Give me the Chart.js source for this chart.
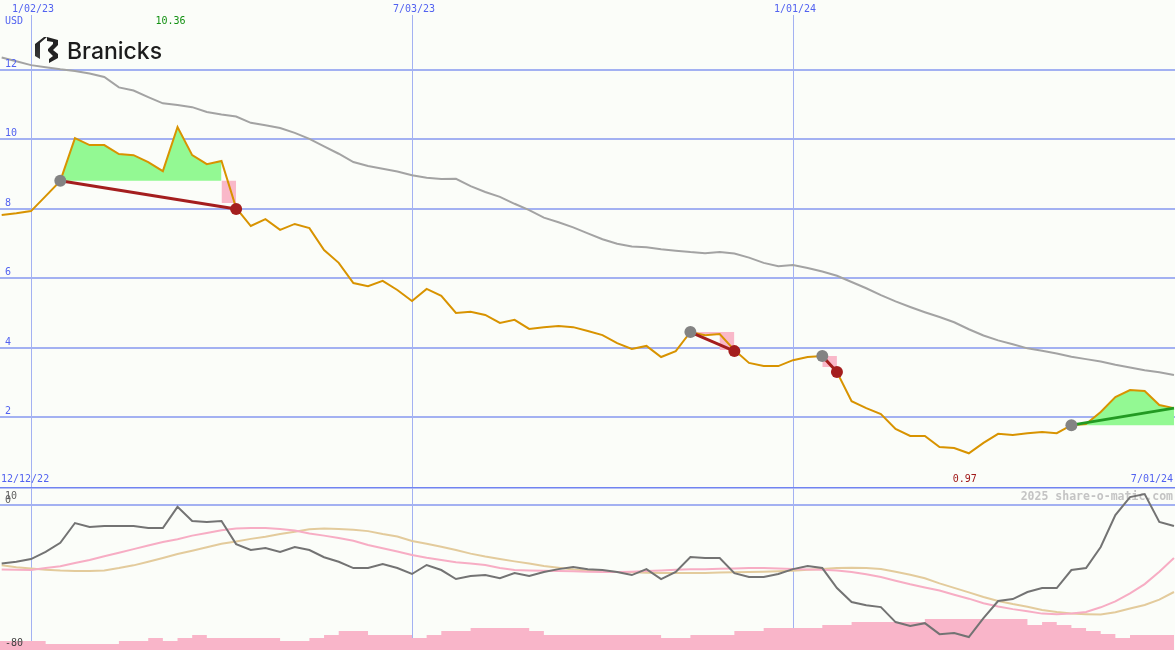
<!DOCTYPE html>
<html>
<head>
<meta charset="utf-8">
<script src="https://cdn.jsdelivr.net/npm/chart.js@4.4.1/dist/chart.umd.min.js"></script>
<style>
  body { margin: 0; background: #fbfdf9; }
  #wrap { position: relative; width: 1175px; height: 650px; overflow: hidden; }
  canvas { position: absolute; left: 0; }
  #priceChart { top: 0; }
  #oscChart { top: 487px; }
</style>
</head>
<body>
<div id="wrap">
  <canvas id="priceChart" width="1175" height="487"></canvas>
  <canvas id="oscChart" width="1175" height="163"></canvas>
</div>
<script>
// weeks counted from 1/02/23, series start at week -2
const firstWeek = -2;
const price = [7.83, 7.88, 7.94, 8.37, 8.81, 10.04, 9.84, 9.84, 9.58, 9.55, 9.35, 9.09, 10.36, 9.55, 9.29, 9.38,
  8.03, 7.51, 7.71, 7.40, 7.57, 7.45, 6.82, 6.45, 5.87, 5.78, 5.93, 5.67, 5.35, 5.70, 5.50, 5.01, 5.04, 4.95,
  4.72, 4.81, 4.55, 4.60, 4.63, 4.60, 4.49, 4.37, 4.14, 3.97, 4.06, 3.74, 3.91, 4.46, 4.37, 4.40, 3.94, 3.57,
  3.48, 3.48, 3.65, 3.74, 3.77, 3.31, 2.47, 2.27, 2.10, 1.67, 1.47, 1.47, 1.15, 1.12, 0.97, 1.27, 1.53, 1.50,
  1.55, 1.58, 1.55, 1.78, 1.81, 2.16, 2.59, 2.79, 2.76, 2.36, 2.27];
const average = [12.36, 12.25, 12.14, 12.08, 12.02, 11.97, 11.90, 11.80, 11.50, 11.41, 11.22, 11.04, 10.99, 10.93,
  10.79, 10.72, 10.66, 10.48, 10.41, 10.33, 10.19, 10.02, 9.80, 9.59, 9.35, 9.24, 9.16, 9.08, 8.97, 8.90, 8.86,
  8.87, 8.66, 8.49, 8.35, 8.15, 7.97, 7.75, 7.62, 7.47, 7.30, 7.13, 7.00, 6.92, 6.90, 6.84, 6.80, 6.76, 6.73,
  6.76, 6.72, 6.60, 6.45, 6.35, 6.39, 6.30, 6.20, 6.08, 5.90, 5.72, 5.52, 5.34, 5.18, 5.03, 4.89, 4.74, 4.54,
  4.36, 4.22, 4.11, 3.99, 3.92, 3.84, 3.75, 3.68, 3.61, 3.52, 3.44, 3.36, 3.30, 3.22];
const oscillator = [-32.5, -31.5, -30, -26, -21, -10, -12.2, -11.7, -11.7, -11.7, -12.8, -12.8, -1, -8.9, -9.4,
  -8.9, -21.7, -25, -23.9, -26.1, -23.3, -25, -29, -31.5, -35, -35, -32.8, -35, -38.3, -33.3, -36.1, -41.1,
  -39.4, -38.9, -40.6, -37.8, -39.4, -37.2, -35.6, -34.4, -35.6, -36.1, -37.2, -38.9, -35.6, -41.1, -37.2,
  -28.9, -29.4, -29.4, -37.8, -40, -40, -38.3, -35.6, -33.9, -35, -46.1, -53.9, -55.6, -56.7, -65, -67.2,
  -65.6, -71.7, -71.1, -73.3, -62.8, -53.3, -52.2, -48.3, -46.1, -46.1, -36.1, -35, -23.3, -5.6, 4.4, 6.1,
  -9.4, -11.7];
const signalPink = [-35.8, -36, -36.1, -35, -34, -32.2, -30.5, -28.5, -26.5, -24.5, -22.5, -20.5, -19, -17, -15.5,
  -14, -13, -12.8, -12.8, -13.3, -14.2, -15.8, -17, -18.3, -19.8, -22.2, -24, -25.8, -27.8, -29.3, -30.5,
  -31.8, -32.5, -33.3, -35, -36.1, -36.3, -36.5, -36.7, -36.8, -37, -37.2, -37.2, -37, -36.7, -36.4, -36,
  -35.6, -35.6, -35.4, -35.2, -35, -35, -35.2, -35.5, -35.8, -36, -36.4, -37.2, -38.5, -40, -42, -44, -45.8,
  -47.5, -49.8, -52, -54.5, -56.4, -57.8, -59, -60.3, -60.6, -60.3, -59.4, -56.8, -53.5, -49, -43.9, -37, -29.4];
const signalTan = [-33.5, -34.5, -35.2, -35.9, -36.4, -36.7, -36.7, -36.3, -35, -33.5, -31.5, -29.4, -27.2, -25.4,
  -23.5, -21.5, -20.3, -18.8, -17.6, -16.1, -14.8, -13.4, -13, -13.3, -13.8, -14.5, -16.1, -17.5, -20, -21.5,
  -23.2, -25, -27, -28.6, -30, -31.3, -32.5, -33.8, -34.8, -35.8, -36.4, -36.9, -37.2, -37.4, -37.6, -37.7,
  -37.8, -37.8, -37.7, -37.5, -37.4, -37.2, -37, -36.8, -36.5, -36, -35.5, -35, -34.8, -35, -35.5, -37, -38.7,
  -40.7, -43.5, -46, -48.5, -51.1, -53.3, -55, -56.5, -58.3, -59.4, -60.3, -60.6, -60.8, -59.5, -57.5, -55.5,
  -52.5, -48.3];
// weekly volume bars start at week -3
const volumeStart = -3;
const volume = [9, 9, 9, 9, 6, 6, 6, 6, 6, 9, 9, 12, 9, 12, 15, 12, 12, 12, 12, 12, 9, 9, 12, 15, 19, 19, 15, 15,
  15, 12, 15, 19, 19, 22, 22, 22, 22, 19, 15, 15, 15, 15, 15, 15, 15, 15, 12, 12, 15, 15, 15, 19, 19, 22, 22,
  22, 22, 25, 25, 28, 28, 28, 28, 28, 31, 31, 31, 31, 31, 31, 31, 25, 28, 25, 22, 19, 16, 12, 15, 15, 15, 15];

// trades
const entryWeek = [2, 45, 54, 71];
const entryPrice = [8.81, 4.46, 3.77, 1.78];
const exitWeek = [14, 48, 55];
const exitPrice = [8.00, 3.91, 3.31];
const gainWeeks = [[2, 13], [71, 78]];
const lossWeeks = [[13, 14], [45, 46, 47, 48], [54, 55]];
const lossLow = [[8.81, 8.17], [4.46, 4.37, 4.40, 3.94], [3.77, 3.45]];

const priceTicks = [2, 4, 6, 8, 10, 12];
const dateWeeks = [0, 26, 52];
const dateLabels = ['1/02/23', '7/03/23', '1/01/24'];
const maxWeek = 10, minWeek = 64;

const gridColor = '#a3b1f2';
const textBlue = '#5262f0';
const mono = '"DejaVu Sans Mono", monospace';

const toPoints = (arr, start) => arr.map((v, i) => ({ x: start + i, y: v }));
const priceAt = w => price[w - firstWeek];

const xScale = { type: 'linear', min: -2.115, max: 78.07, display: false };

const hline = (ctx, x1, y1, x2, y2) => {
    ctx.beginPath();
    ctx.moveTo(x1, y1);
    ctx.lineTo(x2, y2);
    ctx.stroke();
};

const drawLogo = (ctx) => {
    ctx.save();
    const g = ctx.createLinearGradient(35, 36, 58, 63);
    g.addColorStop(0, '#1a1a1a');
    g.addColorStop(1, '#555');
    ctx.fillStyle = g;
    ctx.beginPath();
    ctx.moveTo(35, 44);
    ctx.lineTo(44, 37);
    ctx.lineTo(47, 37);
    ctx.lineTo(40, 43);
    ctx.lineTo(40, 59);
    ctx.lineTo(35, 56);
    ctx.closePath();
    ctx.fill();
    ctx.fillStyle = '#222';
    ctx.beginPath();
    ctx.moveTo(47, 37);
    ctx.lineTo(58, 40);
    ctx.lineTo(58, 45);
    ctx.lineTo(53, 50);
    ctx.lineTo(58, 54);
    ctx.lineTo(58, 58);
    ctx.lineTo(49, 63);
    ctx.lineTo(49, 59);
    ctx.lineTo(53, 56);
    ctx.lineTo(48, 51);
    ctx.lineTo(48, 49);
    ctx.lineTo(53, 44);
    ctx.lineTo(53, 42);
    ctx.lineTo(47, 41);
    ctx.closePath();
    ctx.fill();
    ctx.fillStyle = '#1c1c1c';
    ctx.font = '500 23px Inter, "Noto Sans", sans-serif';
    ctx.textBaseline = 'alphabetic';
    ctx.textAlign = 'left';
    ctx.fillText('Branicks', 67, 59);
    ctx.restore();
};

const priceGrid = {
    id: 'priceGrid',
    beforeDatasetsDraw(chart) {
        const { ctx, scales: { x, y } } = chart;
        ctx.save();
        ctx.strokeStyle = gridColor;
        ctx.lineWidth = 2;
        priceTicks.forEach(v => {
            const py = Math.round(y.getPixelForValue(v));
            hline(ctx, 0, py, chart.width, py);
        });
        ctx.lineWidth = 1;
        dateWeeks.forEach(w => {
            const px = Math.round(x.getPixelForValue(w)) + 0.5;
            hline(ctx, px, 15, px, chart.height);
        });
        ctx.restore();
    },
    afterDraw(chart) {
        const { ctx, scales: { x, y } } = chart;
        ctx.save();
        ctx.font = '10px ' + mono;
        ctx.textBaseline = 'middle';
        ctx.fillStyle = textBlue;
        ctx.textAlign = 'center';
        dateWeeks.forEach((w, i) => ctx.fillText(dateLabels[i], x.getPixelForValue(w) + 2, 9));
        ctx.textAlign = 'left';
        ctx.fillText('USD', 5, 21);
        priceTicks.forEach(v => ctx.fillText(String(v), 5, y.getPixelForValue(v) - 6));
        ctx.fillText('12/12/22', 1, 479);
        ctx.textAlign = 'right';
        ctx.fillText('7/01/24', 1173, 479);
        ctx.textAlign = 'center';
        ctx.fillStyle = '#129012';
        ctx.fillText(priceAt(maxWeek).toFixed(2), x.getPixelForValue(maxWeek) - 7, 21);
        ctx.fillStyle = '#a01818';
        ctx.fillText(priceAt(minWeek).toFixed(2), x.getPixelForValue(minWeek) - 4, 479);
        ctx.restore();
        drawLogo(ctx);
    }
};

const priceDatasets = [];
gainWeeks.forEach(range => {
    const t = entryWeek.indexOf(range[0]);
    const pts = [];
    for (let w = range[0]; w <= range[1]; w++) pts.push({ x: w, y: priceAt(w) });
    priceDatasets.push({ data: pts, borderWidth: 0, pointRadius: 0, backgroundColor: '#93f993',
        fill: { value: entryPrice[t] }, order: 10 });
});
// chart.js 'after' = each step takes the value of the point it ends on
lossWeeks.forEach((weeks, i) => {
    priceDatasets.push({ data: weeks.map((w, j) => ({ x: w, y: lossLow[i][j] })), borderWidth: 0, pointRadius: 0,
        stepped: 'after', backgroundColor: '#f9b8c9', fill: { value: lossLow[i][0] }, order: 10 });
});
priceDatasets.push({ data: toPoints(average, firstWeek), borderColor: '#a3a3a3', borderWidth: 2, pointRadius: 0, order: 8 });
priceDatasets.push({ data: toPoints(price, firstWeek), borderColor: '#d89300', borderWidth: 2, pointRadius: 0, order: 7 });
exitWeek.forEach((w, i) => {
    priceDatasets.push({ data: [{ x: entryWeek[i], y: entryPrice[i] }, { x: w, y: exitPrice[i] }],
        borderColor: '#a41e1e', borderWidth: 3, pointRadius: 0, order: 5 });
});
const lastWeek = firstWeek + price.length - 1;
priceDatasets.push({ data: [{ x: entryWeek[3], y: entryPrice[3] }, { x: lastWeek, y: price[price.length - 1] }],
    borderColor: '#229a22', borderWidth: 3, pointRadius: 0, order: 5 });
priceDatasets.push({ type: 'scatter', data: entryWeek.map((w, i) => ({ x: w, y: entryPrice[i] })),
    pointRadius: 6, pointBackgroundColor: '#838383', pointBorderWidth: 0, order: 2 });
priceDatasets.push({ type: 'scatter', data: exitWeek.map((w, i) => ({ x: w, y: exitPrice[i] })),
    pointRadius: 6, pointBackgroundColor: '#a41e1e', pointBorderWidth: 0, order: 1 });

new Chart(document.getElementById('priceChart'), {
    type: 'line',
    data: { datasets: priceDatasets },
    options: {
        responsive: false,
        animation: false,
        devicePixelRatio: 1,
        layout: { padding: 0, autoPadding: false },
        elements: { line: { tension: 0 } },
        plugins: { legend: { display: false }, tooltip: { enabled: false } },
        scales: { x: xScale, y: { min: 0, max: 14.014, display: false } }
    },
    plugins: [priceGrid]
});

const oscGrid = {
    id: 'oscGrid',
    beforeDatasetsDraw(chart) {
        const { ctx, scales: { x, y } } = chart;
        ctx.save();
        ctx.strokeStyle = '#7183f1';
        ctx.lineWidth = 2;
        hline(ctx, 0, 0.5, chart.width, 0.5);
        ctx.strokeStyle = gridColor;
        const py = Math.round(y.getPixelForValue(0));
        hline(ctx, 0, py, chart.width, py);
        ctx.lineWidth = 1;
        dateWeeks.forEach(w => {
            const px = Math.round(x.getPixelForValue(w)) + 0.5;
            hline(ctx, px, 1, px, chart.height);
        });
        ctx.font = 'bold 11.5px ' + mono;
        ctx.textBaseline = 'middle';
        ctx.textAlign = 'right';
        ctx.fillStyle = '#c4c4c4';
        ctx.fillText('2025 share-o-matic.com', 1173, 10);
        ctx.font = '10px ' + mono;
        ctx.textAlign = 'left';
        ctx.fillStyle = '#606060';
        ctx.fillText('10', 5, 9);
        ctx.fillText('0', 5, 13);
        ctx.restore();
    },
    afterDatasetsDraw(chart) {
        const { ctx, scales: { y } } = chart;
        ctx.save();
        ctx.font = '10px ' + mono;
        ctx.textBaseline = 'middle';
        ctx.fillStyle = '#404040';
        ctx.fillText('-80', 5, y.getPixelForValue(-80) - 6);
        ctx.restore();
    }
};

new Chart(document.getElementById('oscChart'), {
    type: 'line',
    data: {
        datasets: [
            // 'before' keeps each bar's value across the following week
            { data: toPoints(volume, volumeStart), yAxisID: 'yVol', stepped: 'before', fill: 'origin',
              backgroundColor: '#f9b5c9', borderWidth: 0, pointRadius: 0, order: 10 },
            { data: toPoints(signalTan, firstWeek), borderColor: '#e3cb9c', borderWidth: 2, pointRadius: 0, order: 4 },
            { data: toPoints(signalPink, firstWeek), borderColor: '#f7adc4', borderWidth: 2, pointRadius: 0, order: 3 },
            { data: toPoints(oscillator, firstWeek), borderColor: '#737373', borderWidth: 2, pointRadius: 0, order: 2 }
        ]
    },
    options: {
        responsive: false,
        animation: false,
        devicePixelRatio: 1,
        layout: { padding: 0, autoPadding: false },
        elements: { line: { tension: 0 } },
        plugins: { legend: { display: false }, tooltip: { enabled: false } },
        scales: {
            x: xScale,
            y: { min: -80.5, max: 10, display: false },
            yVol: { min: 0, max: 163, display: false }
        }
    },
    plugins: [oscGrid]
});
</script>
</body>
</html>
